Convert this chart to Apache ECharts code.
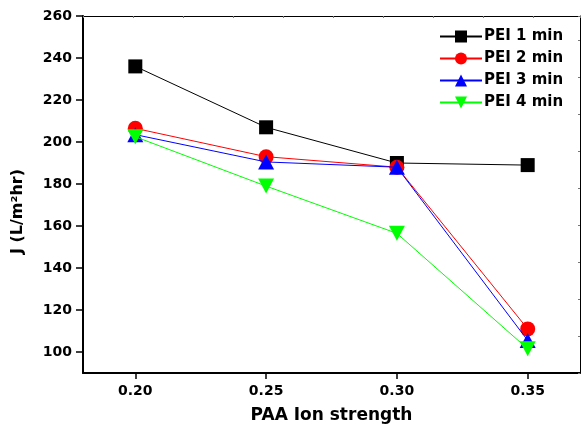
<!DOCTYPE html>
<html>
<head>
<meta charset="utf-8">
<script src="https://cdn.jsdelivr.net/npm/echarts@6/dist/echarts.min.js"></script>
<style>
  html, body { margin: 0; padding: 0; background: #fff; }
  #chart { width: 581px; height: 429px; }
</style>
</head>
<body>
<div id="chart"></div>
<script>
// Permeate flux J versus PAA ionic strength, one curve per PEI deposition time
const ionStrength = [0.20, 0.25, 0.30, 0.35];
const seriesNames = ['PEI 1 min', 'PEI 2 min', 'PEI 3 min', 'PEI 4 min'];
const pei1 = [236, 207, 190, 189];
const pei2 = [206.5, 193, 188, 111];
const pei3 = [203.5, 190.5, 188, 105.5];
const pei4 = [202.5, 179, 156.5, 101.5];
const yTicks = [100, 120, 140, 160, 180, 200, 220, 240, 260];

const FONT = 'DejaVu Sans';
const colors = ['#000000', '#ff0000', '#0000ff', '#00ff00'];
const symbols = ['rect', 'circle', 'triangle', 'triangle'];
const symbolSizes = [14, 15, [16, 15], [16, 15]];
const rotations = [0, 0, 0, 180];
const values = [pei1, pei2, pei3, pei4];

const chart = echarts.init(document.getElementById('chart'), null, { renderer: 'canvas' });

const series = values.map((vals, i) => ({
  name: seriesNames[i],
  type: 'line',
  xAxisIndex: 0,
  yAxisIndex: 0,
  data: ionStrength.map((x, j) => [x, vals[j]]),
  symbol: symbols[i],
  symbolSize: symbolSizes[i],
  symbolRotate: rotations[i],
  showAllSymbol: true,
  lineStyle: { color: colors[i], width: 1 },
  itemStyle: { color: colors[i] },
  z: 2 + i
}));

chart.setOption({
  animation: false,
  backgroundColor: '#ffffff',
  grid: {
    left: 83, right: 1, top: 16, bottom: 56,
    containLabel: false,
    outerBoundsMode: 'none'
  },
  legend: {
    orient: 'vertical',
    left: 434,
    top: 24,
    itemWidth: 42,
    itemHeight: 15,
    itemGap: 7,
    data: seriesNames,
    textStyle: { fontFamily: FONT, fontWeight: 'bold', fontSize: 15, color: '#000', padding: [0, 0, 0, -3] }
  },
  xAxis: [
    {
      type: 'value',
      position: 'bottom',
      min: 0.18,
      max: 0.37,
      interval: 0.05,
      name: 'PAA Ion strength',
      nameLocation: 'middle',
      nameGap: 34,
      nameTextStyle: { fontFamily: FONT, fontWeight: 'bold', fontSize: 17, color: '#000' },
      axisLine: { show: true, lineStyle: { color: '#000', width: 2 } },
      axisTick: {
        show: true, length: 6, inside: false,
        lineStyle: { color: '#000', width: 1.5 },
        customValues: ionStrength
      },
      axisLabel: {
        fontFamily: FONT, fontWeight: 'bold', fontSize: 14, color: '#000', margin: 11,
        customValues: ionStrength,
        formatter: v => v.toFixed(2)
      },
      splitLine: { show: false }
    },
    {
      // thin frame edge along the top of the plot
      type: 'value',
      position: 'top',
      min: 0,
      max: 497,
      interval: 50,
      axisLine: { show: true, lineStyle: { color: '#000', width: 1 } },
      axisTick: { show: true, inside: true, length: 2, lineStyle: { color: '#777', width: 1 } },
      axisLabel: { show: false },
      splitLine: { show: false }
    }
  ],
  yAxis: [
    {
      type: 'value',
      position: 'left',
      min: 90,
      max: 260,
      interval: 20,
      name: 'J (L/m²hr)',
      nameLocation: 'middle',
      nameGap: 57,
      nameRotate: 90,
      nameTextStyle: {
        fontFamily: FONT, fontWeight: 'bold', fontSize: 16, color: '#000',
        padding: [0, 0, 0, -34]
      },
      axisLine: { show: true, lineStyle: { color: '#000', width: 2 } },
      axisTick: {
        show: true, length: 7,
        lineStyle: { color: '#000', width: 1.5 },
        customValues: yTicks
      },
      minorTick: { show: true, splitNumber: 2, length: 3, lineStyle: { color: '#000', width: 1.5 } },
      axisLabel: {
        fontFamily: FONT, fontWeight: 'bold', fontSize: 14, color: '#000', margin: 11,
        customValues: yTicks
      },
      splitLine: { show: false }
    },
    {
      // thin frame edge along the right of the plot
      type: 'value',
      position: 'right',
      min: 0,
      max: 357,
      interval: 37,
      axisLine: { show: true, lineStyle: { color: '#000', width: 1 } },
      axisTick: { show: true, inside: true, length: 2, lineStyle: { color: '#777', width: 1 } },
      axisLabel: { show: false },
      splitLine: { show: false }
    }
  ],
  series: series
});
</script>
</body>
</html>
